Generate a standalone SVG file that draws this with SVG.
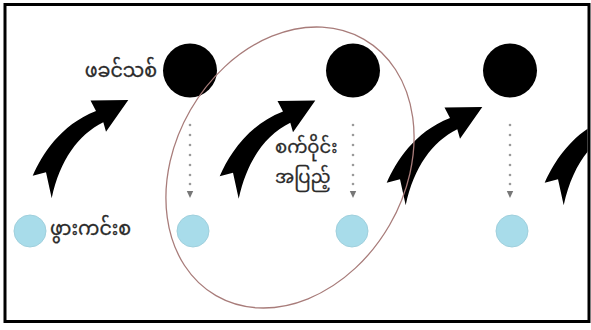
<svg xmlns="http://www.w3.org/2000/svg" width="591" height="330" viewBox="0 0 591 330">
  <style>
    .father { fill: #000; }
    .baby { fill: #a8dcea; stroke: #9fcfdc; stroke-width: 1; }
    .lbl { font-family: "Noto Sans Myanmar", "Padauk", "Myanmar Text", "Noto Sans", "DejaVu Sans", sans-serif; font-size: 19px; fill: #2a2a2a; stroke: #2a2a2a; stroke-width: 0.3; }
    .lbl2 { font-size: 18px; }
    .dot { fill: #9a9a9a; }
    .dhead { fill: #777; }
    .bigarrow { fill: #000; }
    .cycle { fill: none; stroke: #a87c7a; stroke-width: 1.3; }
  </style>
  <defs>
    <path id="curve" d="M 32.7,175.7 C 42,155 60,125 96,111 L 90.5,100.5 L 128.3,100 L 106,131.7 L 103.3,122.3 C 78,135 60,160 51.7,198.3 L 46,172.3 Z"/>
    <g id="dots">
      <circle class="dot" cx="0" cy="125" r="1.3"/>
      <circle class="dot" cx="0" cy="135" r="1.3"/>
      <circle class="dot" cx="0" cy="145" r="1.3"/>
      <circle class="dot" cx="0" cy="155" r="1.3"/>
      <circle class="dot" cx="0" cy="165" r="1.3"/>
      <circle class="dot" cx="0" cy="175" r="1.3"/>
      <circle class="dot" cx="0" cy="184" r="1.3"/>
      <path class="dhead" d="M -3.2,191 L 3.2,191 L 0,198 Z"/>
    </g>
    <clipPath id="frameclip"><rect x="6" y="6" width="581.5" height="314"/></clipPath>
    <filter id="soft" x="-20%" y="-20%" width="140%" height="140%"><feGaussianBlur stdDeviation="0.6"/></filter>
  </defs>

  <rect x="0" y="0" width="591" height="330" fill="#fff"/>

  <g id="connectors" clip-path="url(#frameclip)">
    <use href="#curve" class="bigarrow" transform="translate(0,0)"/>
    <use href="#curve" class="bigarrow" transform="translate(187,0.5)"/>
    <use href="#curve" class="bigarrow" transform="translate(354,7)"/>
    <use href="#curve" class="bigarrow" transform="translate(512,7)"/>
    <use href="#dots" transform="translate(190,0)"/>
    <use href="#dots" transform="translate(353,0)"/>
    <use href="#dots" transform="translate(510,0)"/>
  </g>

  <g id="father1"><circle class="father" cx="190" cy="70.5" r="27" filter="url(#soft)"/></g>
  <g id="father2"><circle class="father" cx="353" cy="70.5" r="27" filter="url(#soft)"/></g>
  <g id="father3"><circle class="father" cx="510" cy="70.5" r="27" filter="url(#soft)"/></g>

  <g id="baby1"><circle class="baby" cx="30" cy="231" r="16" filter="url(#soft)"/></g>
  <g id="baby2"><circle class="baby" cx="193" cy="231" r="16" filter="url(#soft)"/></g>
  <g id="baby3"><circle class="baby" cx="352" cy="231" r="16" filter="url(#soft)"/></g>
  <g id="baby4"><circle class="baby" cx="512" cy="231" r="16" filter="url(#soft)"/></g>

  <g id="label-father"><text class="lbl" x="157" y="77" text-anchor="end">ဖခင်သစ်</text></g>
  <g id="label-baby"><text class="lbl" x="50" y="235">ဖွားကင်းစ</text></g>
  <g id="label-cycle">
    <text class="lbl lbl2" x="275" y="153">စက်ဝိုင်း</text>
    <text class="lbl lbl2" x="275" y="183">အပြည့်</text>
  </g>

  <g id="cycle"><ellipse class="cycle" cx="290" cy="167.5" rx="115" ry="148" transform="rotate(30 290 167.5)"/></g>

  <rect x="5" y="4.5" width="584" height="317" fill="none" stroke="#000" stroke-width="3"/>
</svg>
